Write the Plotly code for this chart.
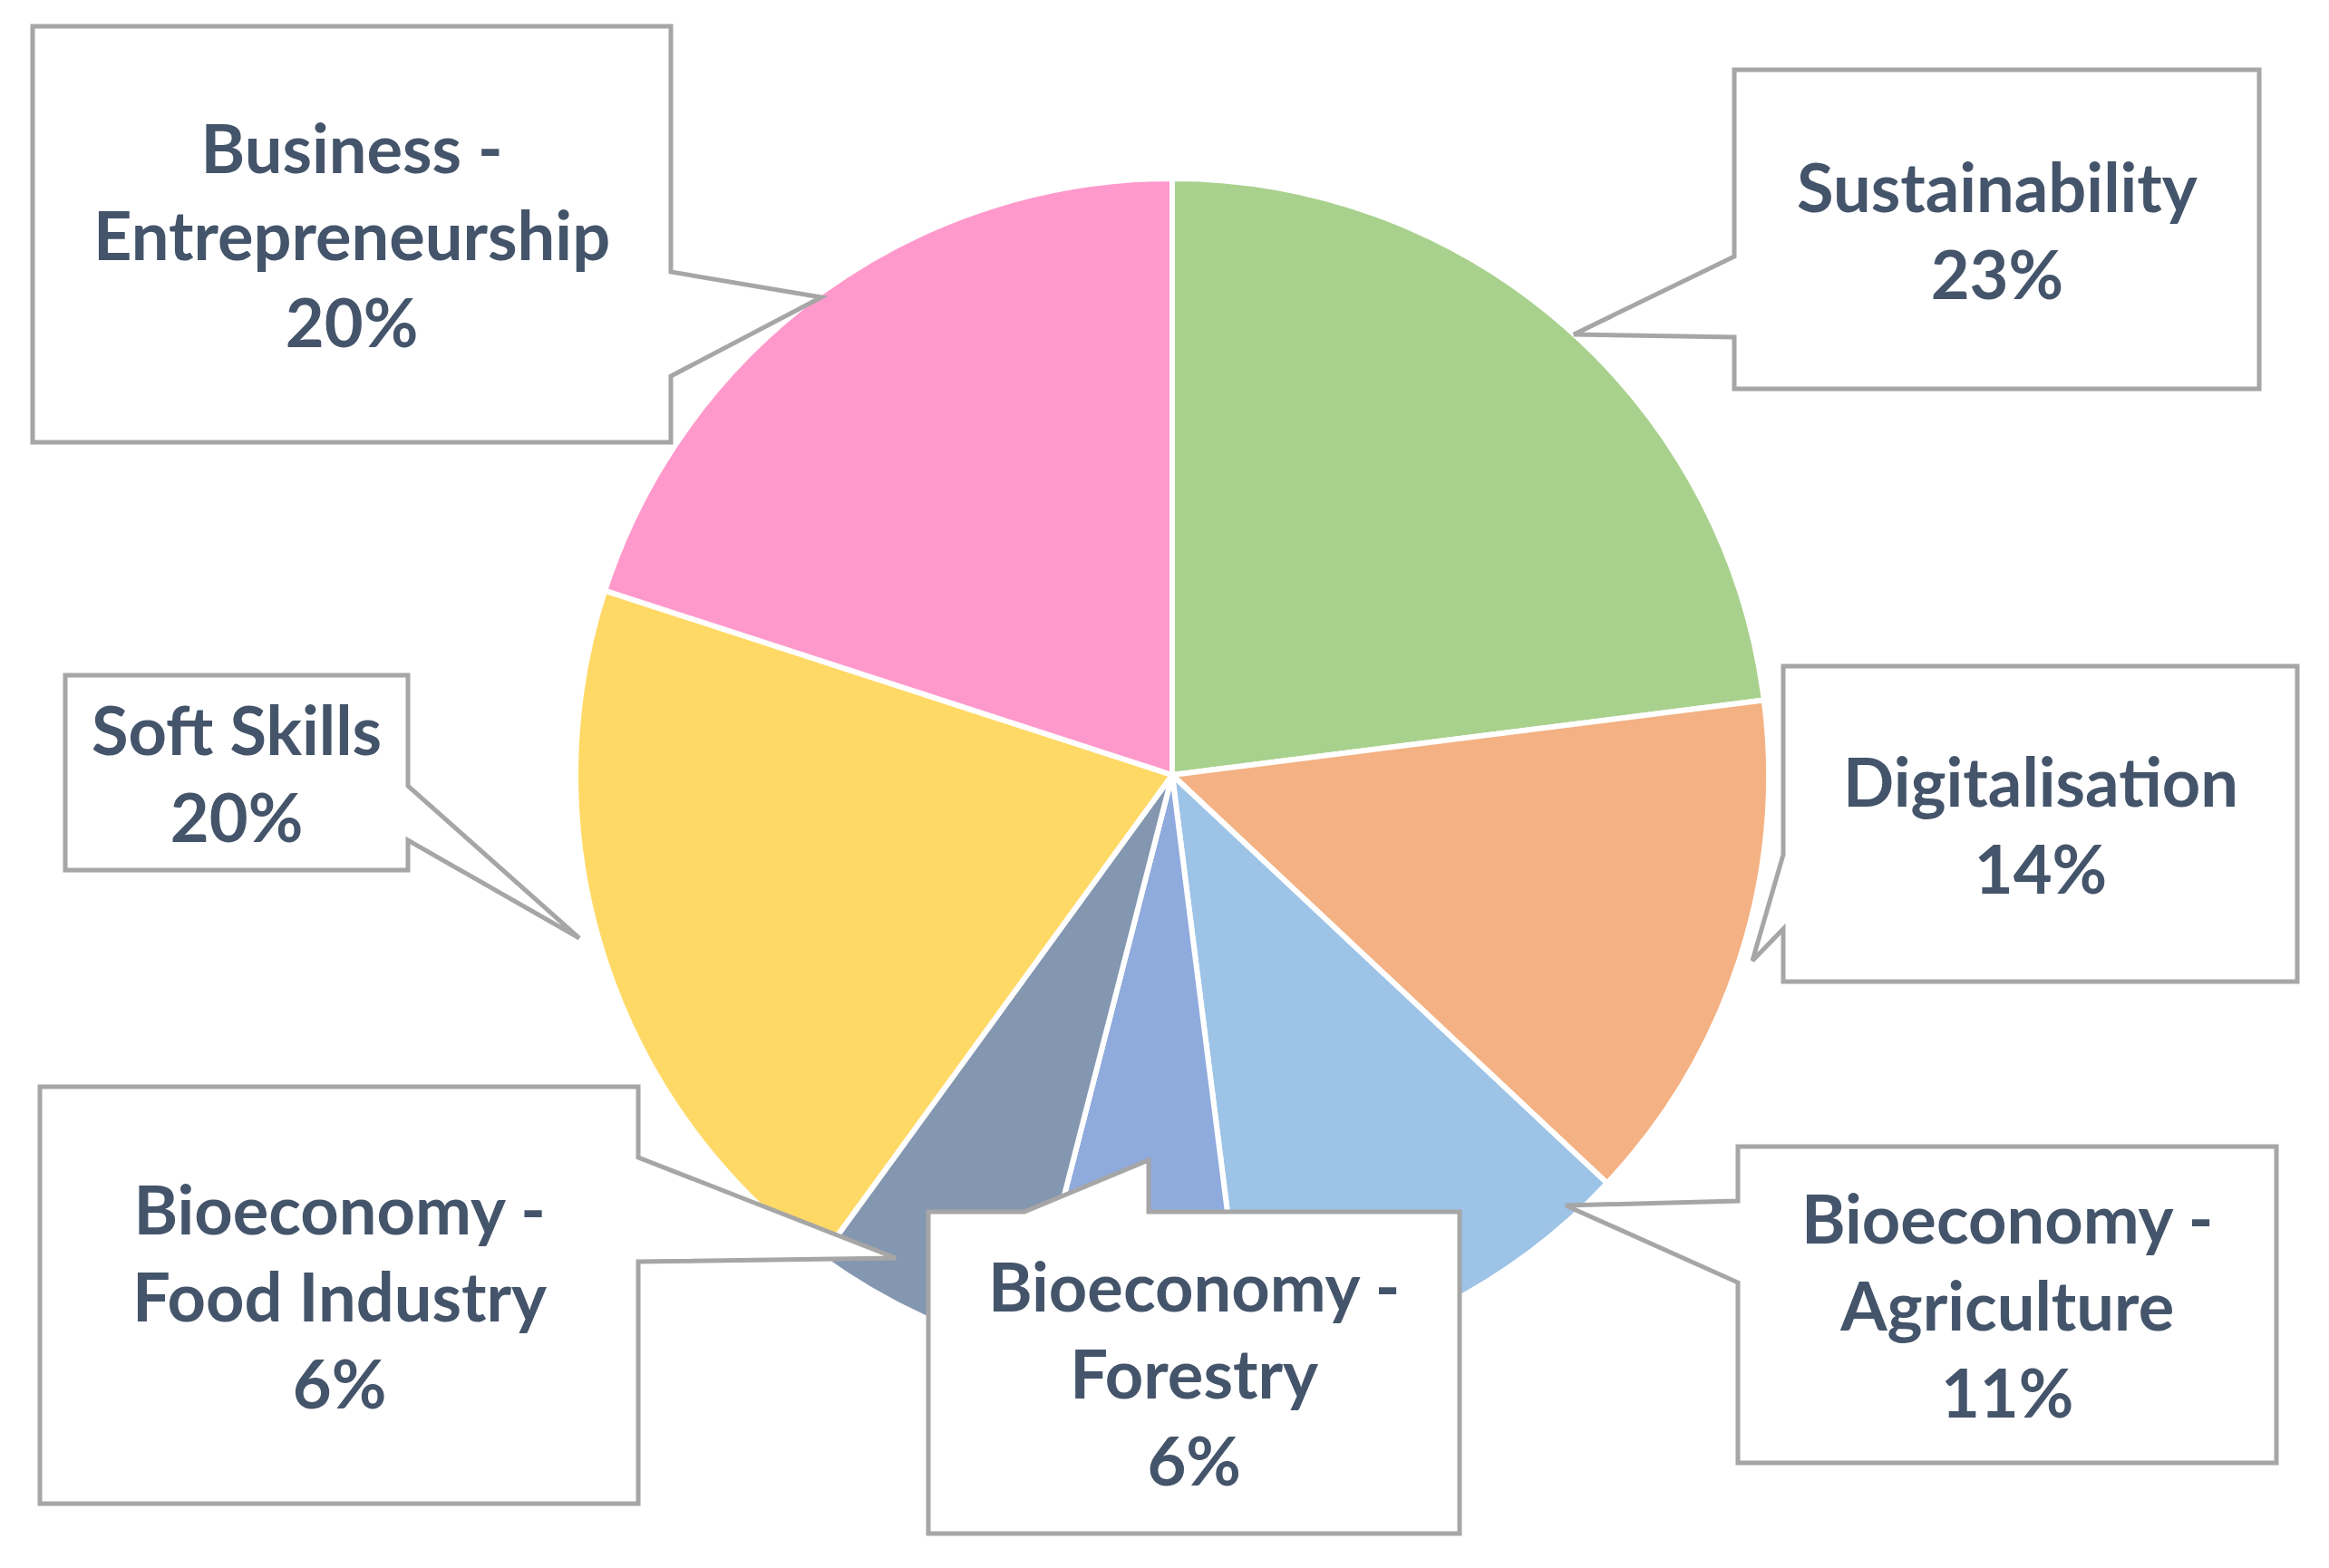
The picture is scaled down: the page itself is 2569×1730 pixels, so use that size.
import plotly.graph_objects as go

# slice data, clockwise from 12 o'clock
labels = ['Sustainability', 'Digitalisation', 'Bioeconomy - Agriculture',
          'Bioeconomy - Forestry', 'Bioeconomy - Food Industry', 'Soft Skills',
          'Business - Entrepreneurship']
values = [23, 14, 11, 6, 6, 20, 20]
colors = ['#A9D18E', '#F4B183', '#9DC3E6', '#8FAADC', '#8497B0', '#FFD966', '#FF99CC']
label_lines = [
    ['Sustainability'],
    ['Digitalisation'],
    ['Bioeconomy -', 'Agriculture'],
    ['Bioeconomy -', 'Forestry'],
    ['Bioeconomy -', 'Food Industry'],
    ['Soft Skills'],
    ['Business -', 'Entrepreneurship'],
]

W, H = 2569, 1730
CX, CY, R = 1293, 855, 658

# callout boxes in page pixels: box (x0, y0, x1, y1), side of the pointer, pointer base, pointer tip
callouts = [
    ((1913, 77, 2492, 429), 'left', (283, 372), (1736, 369)),
    ((1967, 735, 2534, 1083), 'left', (943, 1025), (1933, 1060)),
    ((1917, 1265, 2511, 1614), 'left', (1325, 1415), (1727, 1330)),
    ((1024, 1337, 1610, 1692), 'top', (1130, 1267), (1267, 1280)),
    ((44, 1199, 704, 1659), 'right', (1277, 1392), (988, 1388)),
    ((72, 745, 450, 960), 'right', (867, 927), (639, 1035)),
    ((36, 29, 740, 488), 'right', (300, 415), (906, 328)),
]


def px(x, y):
    return x / W, 1 - y / H


def callout_path(box, side, base, tip):
    x0, y0, x1, y1 = box
    a, b = base
    pts = [(x0, y0)]
    if side == 'top':
        pts += [(a, y0), tip, (b, y0)]
    pts.append((x1, y0))
    if side == 'right':
        pts += [(x1, a), tip, (x1, b)]
    pts.append((x1, y1))
    pts.append((x0, y1))
    if side == 'left':
        pts += [(x0, b), tip, (x0, a)]
    path = ''
    for i, (x, y) in enumerate(pts):
        u, v = px(x, y)
        path += ('M' if i == 0 else 'L') + f'{u:.5f},{v:.5f} '
    return path + 'Z'


fig = go.Figure()
fig.add_trace(go.Pie(
    labels=labels, values=values, sort=False, direction='clockwise', rotation=0,
    marker=dict(colors=colors, line=dict(color='white', width=6)),
    textinfo='none', hoverinfo='label+percent', showlegend=False,
    domain=dict(x=[(CX - R) / W, (CX + R) / W], y=[1 - (CY + R) / H, 1 - (CY - R) / H]),
))

shapes = []
annotations = []
for lines, v, (box, side, base, tip) in zip(label_lines, values, callouts):
    shapes.append(dict(type='path', xref='paper', yref='paper', path=callout_path(box, side, base, tip),
                       fillcolor='white', line=dict(color='#A6A6A6', width=5), layer='above'))
    cx, cy = px((box[0] + box[2]) / 2, (box[1] + box[3]) / 2)
    annotations.append(dict(x=cx, y=cy, xref='paper', yref='paper', showarrow=False,
                            xanchor='center', yanchor='middle',
                            text='<br>'.join(lines + [f'{v}%']), align='center',
                            font=dict(family='Lato', size=74, color='#44546A', weight='bold')))

fig.update_layout(
    width=W, height=H, margin=dict(l=0, r=0, t=0, b=0),
    paper_bgcolor='white', plot_bgcolor='white',
    shapes=shapes, annotations=annotations,
)

fig.write_html('out.html', config={'displayModeBar': False},
               post_script="document.body.style.margin='0';document.body.style.overflow='hidden';")
